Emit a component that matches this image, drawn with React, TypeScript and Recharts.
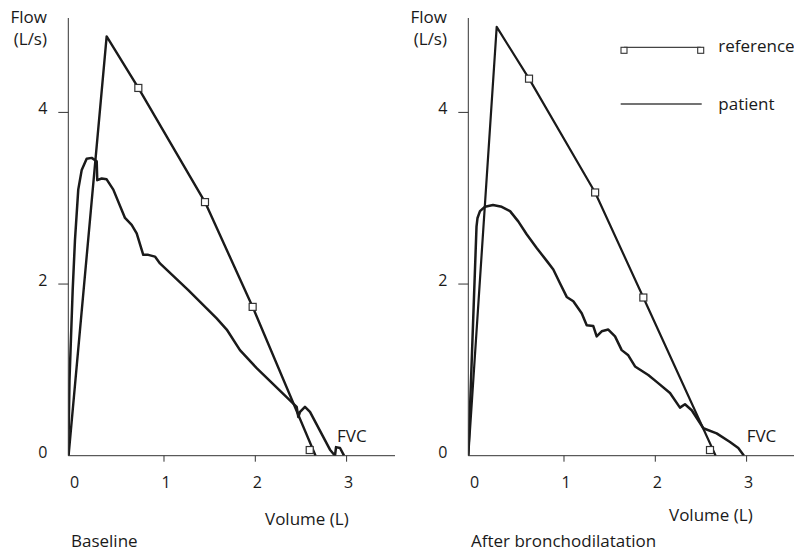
import { ComposedChart, Line, Scatter, XAxis, YAxis, Legend, Customized } from 'recharts'

const FONT = '"Open Sans", "Noto Sans", sans-serif'
const INK = '#1a1a1a'
const AXIS = '#333'

// Baseline panel
const BASE_REF_VOL = [-0.045, 0.372, 0.719, 1.449, 1.971, 2.66]
const BASE_REF_FLOW = [0, 4.886, 4.285, 2.955, 1.734, 0]
const BASE_MARK_VOL = [0.719, 1.449, 1.971, 2.596]
const BASE_MARK_FLOW = [4.285, 2.955, 1.734, 0.066]
const BASE_PAT_VOL = [
  -0.048, -0.035, 0.0, 0.025, 0.061, 0.099, 0.153, 0.208, 0.263, 0.269, 0.318, 0.372, 0.445, 0.573,
  0.646, 0.701, 0.773, 0.828, 0.901, 0.956, 1.266, 1.577, 1.687, 1.832, 2.015, 2.453, 2.471, 2.49,
  2.544, 2.599, 2.818, 2.873, 2.884, 2.928, 2.972,
]
const BASE_PAT_FLOW = [
  0, 0.88, 1.93, 2.51, 3.1, 3.33, 3.46, 3.47, 3.43, 3.21, 3.23, 3.22, 3.1, 2.77,
  2.69, 2.59, 2.34, 2.34, 2.32, 2.24, 1.93, 1.6, 1.47, 1.23, 1.02, 0.57, 0.45, 0.51,
  0.57, 0.51, 0.07, 0, 0.1, 0.09, 0,
]

// After bronchodilatation panel
const POST_REF_VOL = [-0.048, 0.263, 0.617, 1.341, 1.869, 2.661]
const POST_REF_FLOW = [0, 4.996, 4.393, 3.067, 1.843, 0]
const POST_MARK_VOL = [0.617, 1.341, 1.869, 2.599]
const POST_MARK_FLOW = [4.393, 3.067, 1.843, 0.066]
const POST_PAT_VOL = [
  -0.048, 0.042, 0.053, 0.08, 0.135, 0.222, 0.318, 0.409, 0.499, 0.591, 0.701, 0.811, 0.883, 0.956,
  1.03, 1.102, 1.194, 1.249, 1.321, 1.358, 1.413, 1.485, 1.559, 1.632, 1.704, 1.778, 1.923, 2.015,
  2.161, 2.27, 2.325, 2.399, 2.526, 2.672, 2.818, 2.909, 2.971,
]
const POST_PAT_FLOW = [
  0, 2.67, 2.77, 2.85, 2.9, 2.92, 2.9, 2.85, 2.73, 2.58, 2.42, 2.27, 2.17, 2.01,
  1.85, 1.8, 1.66, 1.52, 1.51, 1.39, 1.45, 1.47, 1.39, 1.23, 1.17, 1.04, 0.94, 0.86,
  0.73, 0.56, 0.6, 0.53, 0.32, 0.26, 0.16, 0.09, 0,
]

const X_TICKS = [0, 1, 2, 3]
const Y_TICKS = [0, 2, 4]

const zip = (v: number[], f: number[]) => v.map((x, i) => ({ v: x, f: f[i] }))

// layout (px inside each chart's svg)
const PLOT_LEFT = 68.3
const PLOT_BOTTOM = 455.7

function YTick({ y, payload }: any) {
  return (
    <g>
      {payload.value !== 0 && <line x1={PLOT_LEFT - 10} x2={PLOT_LEFT} y1={y} y2={y} stroke={AXIS} />}
      <text x={47.5} y={y + 1.8} textAnchor="end" fontSize={16} fontFamily={FONT} fill={INK}>
        {payload.value}
      </text>
    </g>
  )
}

function XTick({ x, payload }: any) {
  return (
    <g>
      {payload.value !== 0 && <line x1={x} x2={x} y1={PLOT_BOTTOM} y2={PLOT_BOTTOM + 6} stroke={AXIS} />}
      <text x={x + 2} y={488.3} textAnchor="middle" fontSize={16} fontFamily={FONT} fill={INK}>
        {payload.value}
      </text>
    </g>
  )
}

const Square = ({ cx, cy }: any) => (
  <rect x={cx - 3.5} y={cy - 3.5} width={7} height={7} fill="#fff" stroke={AXIS} strokeWidth={1.2} />
)

function Texts({ volX, volY, title, fvcX }: { volX: number; volY: number; title: string; fvcX: number }) {
  const t = { fontSize: 17, fontFamily: FONT, fill: INK }
  return (
    <g>
      <text x={47} y={23.3} textAnchor="end" {...t}>Flow</text>
      <text x={47} y={45} textAnchor="end" {...t}>(L/s)</text>
      <text x={volX} y={volY} {...t}>Volume (L)</text>
      <text x={71} y={547.3} {...t}>{title}</text>
      <text x={fvcX} y={442.3} {...t}>FVC</text>
    </g>
  )
}

function LegendBox() {
  const t = { fontSize: 17, fontFamily: FONT, fill: INK }
  return (
    <svg width={180} height={90}>
      <line x1={9} x2={85.7} y1={17.3} y2={17.3} stroke="#444" strokeWidth={1.3} />
      <rect x={6} y={17.3} width={6} height={6} fill="#fff" stroke="#333" strokeWidth={1.1} />
      <rect x={82.7} y={17.3} width={6} height={6} fill="#fff" stroke="#333" strokeWidth={1.1} />
      <text x={103.3} y={21.7} {...t}>reference</text>
      <line x1={5.7} x2={86.7} y1={74} y2={74} stroke="#444" strokeWidth={1.3} />
      <text x={103.3} y={80} {...t}>patient</text>
    </svg>
  )
}

function Panel(props: {
  refData: { v: number; f: number }[]
  markData: { v: number; f: number }[]
  patData: { v: number; f: number }[]
  refWidth: number
  title: string
  volX: number
  volY: number
  fvcX: number
  legend?: boolean
}) {
  return (
    <ComposedChart
      width={400}
      height={551}
      margin={{ top: 18, right: 5, bottom: 65.3, left: 38.3 }}
    >
      <XAxis
        type="number"
        dataKey="v"
        domain={[-0.048, 3.53]}
        ticks={X_TICKS}
        allowDataOverflow
        height={30}
        tickLine={false}
        axisLine={{ stroke: AXIS, strokeWidth: 1 }}
        tick={<XTick />}
        interval={0}
      />
      <YAxis
        type="number"
        dataKey="f"
        domain={[0, 5.1]}
        ticks={Y_TICKS}
        allowDataOverflow
        width={30}
        tickLine={false}
        axisLine={{ stroke: AXIS, strokeWidth: 1 }}
        tick={<YTick />}
        interval={0}
      />
      <Line
        data={props.refData}
        dataKey="f"
        type="linear"
        stroke={INK}
        strokeWidth={props.refWidth}
        dot={false}
        activeDot={false}
        isAnimationActive={false}
        strokeLinejoin="round"
      />
      <Line
        data={props.patData}
        dataKey="f"
        type="linear"
        stroke={INK}
        strokeWidth={2.5}
        dot={false}
        activeDot={false}
        isAnimationActive={false}
        strokeLinejoin="round"
      />
      <Scatter data={props.markData} dataKey="f" shape={<Square />} isAnimationActive={false} />
      {props.legend && (
        <Legend
          layout="vertical"
          verticalAlign="middle"
          align="center"
          wrapperStyle={{ position: 'absolute', left: 215, top: 30, width: 180, height: 90 }}
          content={() => <LegendBox />}
        />
      )}
      <Customized
        component={<Texts volX={props.volX} volY={props.volY} title={props.title} fvcX={props.fvcX} />}
      />
    </ComposedChart>
  )
}

export default function App() {
  return (
    <div
      style={{
        position: 'absolute',
        left: 0,
        top: 0,
        width: 794,
        height: 551,
        overflow: 'hidden',
        background: '#fff',
      }}
    >
      <div style={{ position: 'absolute', left: 0, top: 0 }}>
        <Panel
          refData={zip(BASE_REF_VOL, BASE_REF_FLOW)}
          markData={zip(BASE_MARK_VOL, BASE_MARK_FLOW)}
          patData={zip(BASE_PAT_VOL, BASE_PAT_FLOW)}
          refWidth={2.4}
          title="Baseline"
          volX={265}
          volY={525}
          fvcX={337}
        />
      </div>
      <div style={{ position: 'absolute', left: 400, top: 0 }}>
        <Panel
          refData={zip(POST_REF_VOL, POST_REF_FLOW)}
          markData={zip(POST_MARK_VOL, POST_MARK_FLOW)}
          patData={zip(POST_PAT_VOL, POST_PAT_FLOW)}
          refWidth={2.2}
          title="After bronchodilatation"
          volX={269}
          volY={520.7}
          fvcX={346.7}
          legend
        />
      </div>
    </div>
  )
}
